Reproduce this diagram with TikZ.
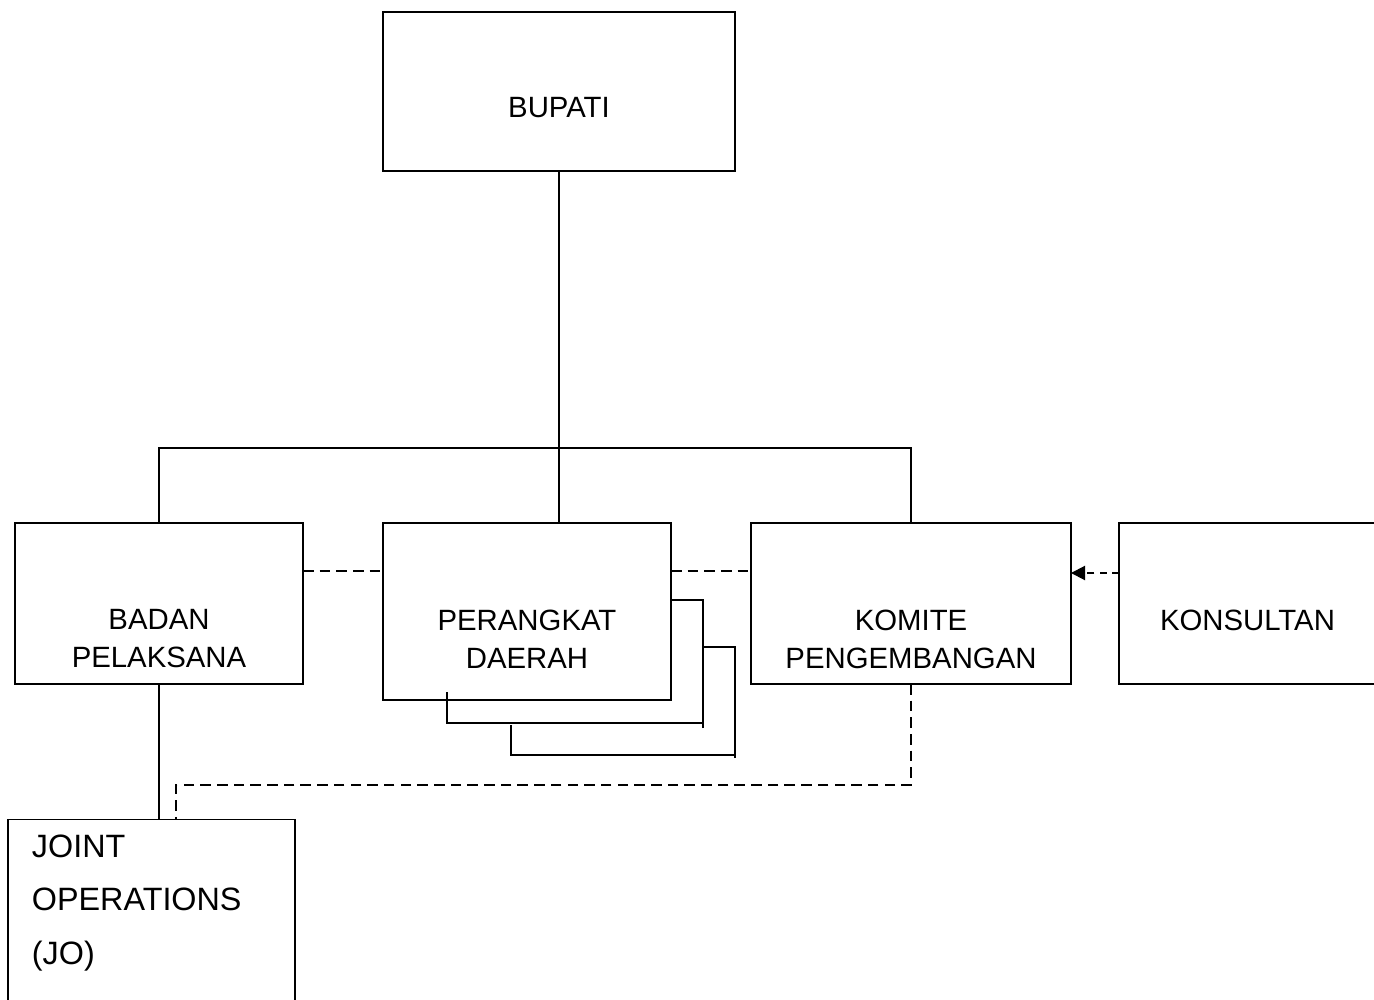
\documentclass[tikz,border=0pt]{standalone}
\usepackage{fontspec}
\setmainfont{Liberation Sans}
\usetikzlibrary{arrows.meta}
\begin{document}
\begin{tikzpicture}[x=0.02cm,y=-0.02cm,line width=1.1pt,
  box/.style={draw,rectangle,inner sep=0pt,outer sep=0pt},
  lbl/.style={inner sep=0pt,align=center,font=\fontsize{16.7}{21.6}\selectfont},
  dsh/.style={dash pattern=on 6pt off 3.5pt},
  adsh/.style={dash pattern=on 4pt off 3pt}]
\clip (0,0) rectangle (1374,1000);
\fill[white] (0,0) rectangle (1374,1000);
% boxes
\node[box,minimum width=7.04cm,minimum height=3.18cm] (bupati) at (559,91.5) {};
\node[box,minimum width=5.76cm,minimum height=3.22cm] (badan) at (159,603.5) {};
\node[box,minimum width=5.76cm,minimum height=3.54cm] (perangkat) at (527,611.5) {};
\node[box,minimum width=6.40cm,minimum height=3.22cm] (komite) at (911,603.5) {};
\node[box,minimum width=5.40cm,minimum height=3.22cm] (konsultan) at (1254,603.5) {};
\node[box,minimum width=5.74cm,minimum height=3.90cm] (jo) at (151.5,917) {};
% labels
\node[lbl] (tbupati) at (559,108) {BUPATI};
\node[lbl] (tbadan) at (159,639) {BADAN\\PELAKSANA};
\node[lbl] (tperangkat) at (527,639) {PERANGKAT\\DAERAH};
\node[lbl] (tkomite) at (911,639) {KOMITE\\PENGEMBANGAN};
\node[lbl] (tkonsultan) at (1247.5,620) {KONSULTAN};
\node[lbl,align=left,anchor=west,font=\fontsize{18.4}{30.7}\selectfont] (tjo) at (31,903) {JOINT\\OPERATIONS\\(JO)};
% stacked copies behind PERANGKAT DAERAH
\draw (447,692) -- (447,723) -- (703,723);
\draw (703,728) -- (703,600) -- (perangkat.east |- 0,600);
\draw (511,725) -- (511,755) -- (735,755);
\draw (735,758) -- (735,647) -- (703,647);
% solid hierarchy
\coordinate (hub) at (559,448);
\draw (bupati.south) -- (bupati.south |- perangkat.north);
\draw (badan.north) |- (hub) -| (komite.north);
\draw (badan.south) -- (badan.south |- jo.north);
% dashed relations
\draw[dsh] (badan.east |- 0,571) -- (perangkat.west |- 0,571);
\draw[dsh] (perangkat.east |- 0,571) -- (komite.west |- 0,571);
\draw[adsh,-{Triangle[length=8pt,width=8pt]}] (konsultan.west |- 0,573) -- (komite.east |- 0,573);
\coordinate (jbend) at (176,785);
\draw[dsh] (komite.south) |- (jbend) -- (jbend |- jo.north);
\end{tikzpicture}
\end{document}
